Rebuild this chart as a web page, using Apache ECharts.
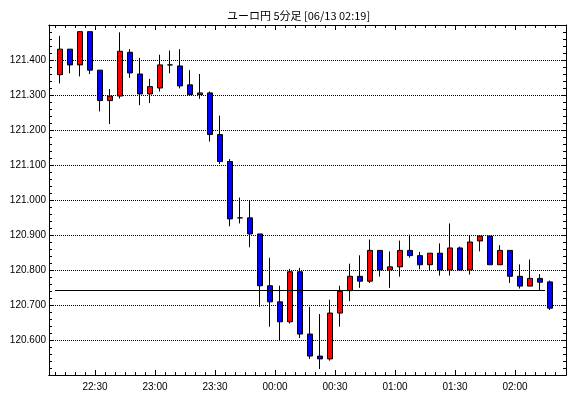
<!DOCTYPE html>
<html>
<head>
<meta charset="utf-8">
<script src="https://cdn.jsdelivr.net/npm/echarts@6/dist/echarts.min.js"></script>
<style>html,body{margin:0;padding:0;background:#fff;}#c{width:570px;height:398px;}</style>
</head>
<body>
<div id="c"></div>
<script>
const titleText = 'ユーロ円 5分足 [06/13 02:19]';
const times = ['22:10','22:15','22:20','22:25','22:30','22:35','22:40','22:45','22:50','22:55',
  '23:00','23:05','23:10','23:15','23:20','23:25','23:30','23:35','23:40','23:45',
  '23:50','23:55','00:00','00:05','00:10','00:15','00:20','00:25','00:30','00:35',
  '00:40','00:45','00:50','00:55','01:00','01:05','01:10','01:15','01:20','01:25',
  '01:30','01:35','01:40','01:45','01:50','01:55','02:00','02:05','02:10','02:15'];
const opens = [121.358,121.431,121.386,121.481,121.371,121.284,121.297,121.422,121.360,121.303,
  121.320,121.386,121.383,121.329,121.301,121.306,121.187,121.110,120.949,120.949,
  120.903,120.755,120.709,120.652,120.795,120.617,120.554,120.546,120.677,120.741,
  120.782,120.768,120.856,120.800,120.809,120.856,120.841,120.815,120.848,120.800,
  120.863,120.800,120.883,120.897,120.815,120.856,120.782,120.754,120.776,120.766];
const closes = [121.431,121.386,121.481,121.371,121.284,121.297,121.425,121.363,121.303,121.324,
  121.386,121.386,121.326,121.301,121.306,121.187,121.110,120.946,120.949,120.903,
  120.755,120.709,120.652,120.795,120.617,120.554,120.546,120.677,120.739,120.782,
  120.768,120.856,120.800,120.809,120.856,120.841,120.815,120.848,120.800,120.863,
  120.800,120.880,120.897,120.815,120.856,120.782,120.754,120.776,120.765,120.691];
const lows = [121.333,121.362,121.353,121.360,121.253,121.217,121.290,121.349,121.271,121.277,
  121.310,121.362,121.319,121.301,121.289,121.167,121.103,120.925,120.933,120.865,
  120.695,120.638,120.600,120.647,120.606,120.546,120.517,120.541,120.638,120.711,
  120.749,120.763,120.781,120.749,120.781,120.835,120.802,120.800,120.784,120.784,
  120.800,120.787,120.853,120.815,120.815,120.763,120.747,120.754,120.741,120.686];
const highs = [121.469,121.431,121.481,121.481,121.371,121.317,121.479,121.431,121.406,121.346,
  121.415,121.427,121.431,121.371,121.360,121.310,121.241,121.117,121.007,121.000,
  120.903,120.835,120.755,120.803,120.806,120.695,120.674,120.715,120.755,120.818,
  120.842,120.887,120.856,120.853,120.884,120.901,120.852,120.848,120.876,120.933,
  120.867,120.898,120.900,120.900,120.871,120.856,120.816,120.830,120.788,120.770];
const refLevel = 120.741;
const xLabels = ['22:30','23:00','23:30','00:00','00:30','01:00','01:30','02:00'];
const yLabels = ['120.600','120.700','120.800','120.900','121.000','121.100','121.200','121.300','121.400'];

function toMin(t){ const p=t.split(':'); let h=+p[0]; if(h<12) h+=24; return h*60 + (+p[1]) - 22*60; }
const slotStarts = times.map(toMin);
const slot = 5;
const data = times.map((t,i)=>[slotStarts[i]+slot/2, opens[i], closes[i], lows[i], highs[i]]);
const xMin = 7, xMax = 265.5;
const majorVals = xLabels.map(toMin);
const minorVals = [];
for (let v = slotStarts[0]; v <= xMax - 1; v += slot) minorVals.push(v);

const font = 'Liberation Sans, Arial, sans-serif';
function xAxisDef(pos, vals, len, labels){
  return {
    type:'value', position:pos, min:xMin, max:xMax, gridIndex:0,
    axisLine:{show:true, lineStyle:{color:'#000', width:1}},
    axisTick:{show:true, inside:true, length:len, customValues:vals, lineStyle:{color:'#000'}},
    axisLabel: labels ? {show:true, customValues:vals, color:'#000', fontSize:10, fontFamily:font, margin:7,
      formatter:(v)=>{ const i=majorVals.indexOf(v); return i>=0 ? xLabels[i] : ''; }} : {show:false},
    splitLine:{show:false}
  };
}
function yAxisDef(pos, labels){
  return {
    type:'value', position:pos, min:120.5, max:121.5, interval:0.1, gridIndex:0,
    axisLine:{show:true, lineStyle:{color:'#000', width:1}},
    axisTick:{show:true, inside:true, length:5, lineStyle:{color:'#000'}},
    minorTick:{show:true, splitNumber:5, length:3, lineStyle:{color:'#000'}},
    axisLabel: labels ? {show:true, customValues:yLabels.map(Number), color:'#000', fontSize:10, fontFamily:font, margin:3,
      formatter:(v)=>v.toFixed(3)} : {show:false},
    splitLine: labels ? {show:true, lineStyle:{color:'#000', type:[1,1], width:1}} : {show:false}
  };
}

const chart = echarts.init(document.getElementById('c'), null, {renderer:'canvas'});
chart.setOption({
  animation:false,
  backgroundColor:'#fff',
  title:{text:titleText, left:222, top:5, textStyle:{fontSize:11, fontWeight:'normal', color:'#000', fontFamily:'Noto Sans CJK JP, sans-serif'}},
  grid:{left:49, right:4, top:25, bottom:23, containLabel:false},
  xAxis:[xAxisDef('bottom', majorVals, 5, true), xAxisDef('bottom', minorVals, 3, false),
         xAxisDef('top', majorVals, 5, false), xAxisDef('top', minorVals, 3, false)],
  yAxis:[yAxisDef('left', true), yAxisDef('right', false)],
  series:[{
    type:'candlestick', xAxisIndex:0, yAxisIndex:0,
    data:data, encode:{x:0, y:[1,2,3,4]},
    barWidth:6,
    itemStyle:{color:'#ff0000', color0:'#0000ff', borderColor:'#000', borderColor0:'#000', borderColorDoji:'#000', borderWidth:1},
    markLine:{silent:true, symbol:['none','none'], label:{show:false},
      lineStyle:{color:'#000', type:'solid', width:1},
      data:[[{coord:[slotStarts[0], refLevel]}, {coord:[slotStarts[slotStarts.length-1], refLevel]}]]}
  }]
});
</script>
</body>
</html>
